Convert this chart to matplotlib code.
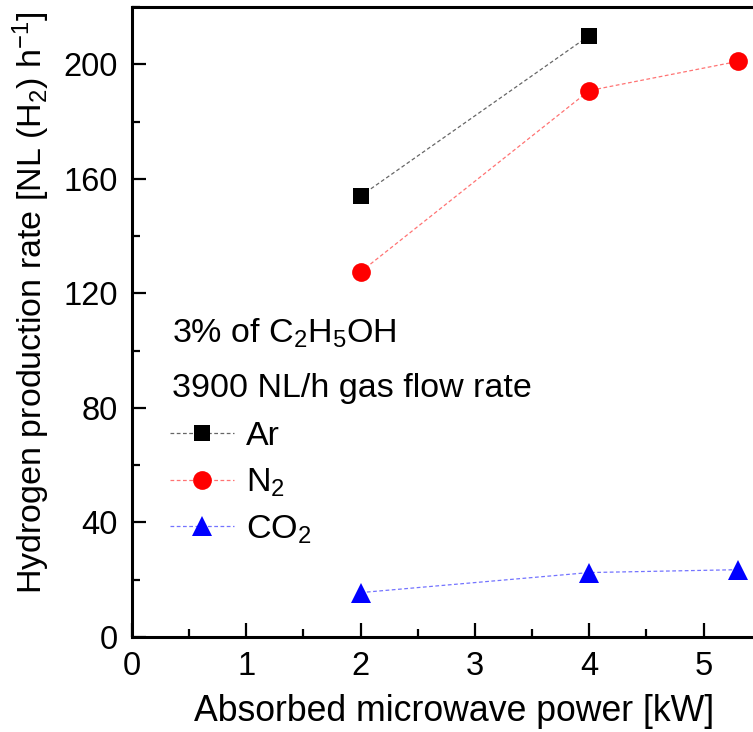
import matplotlib
matplotlib.use("Agg")
import matplotlib.pyplot as plt
from matplotlib.ticker import MultipleLocator

plt.rcParams["font.family"] = ["Liberation Sans", "DejaVu Sans"]
plt.rcParams["mathtext.fontset"] = "custom"
plt.rcParams["mathtext.rm"] = "Liberation Sans"
plt.rcParams["mathtext.it"] = "Liberation Sans:italic"

# absorbed microwave power [kW] and H2 production rate [NL(H2)/h]
power_ar = [2.0, 4.0]
rate_ar = [154.0, 210.0]
power_n2 = [2.0, 4.0, 5.3]
rate_n2 = [127.5, 190.8, 201.0]
power_co2 = [2.0, 4.0, 5.3]
rate_co2 = [15.5, 22.5, 23.5]

series_labels = ["Ar", r"N$_2$", r"CO$_2$"]
header_lines = [r"3% of C$_2$H$_5$OH", "3900 NL/h gas flow rate"]

fig = plt.figure(figsize=(7.53, 7.32), dpi=100)
# axes runs past the right edge of the figure, so the right spine is cut off
ax = fig.add_axes([0.1753, 0.1298, 0.835, 0.8607])

dash = (0, (3, 2))
style = dict(linestyle=dash, linewidth=0.9, markeredgewidth=0)
h_ar, = ax.plot(power_ar, rate_ar, color="black", marker="s", markersize=12,
                **style)
h_n2, = ax.plot(power_n2, rate_n2, color="red", marker="o", markersize=13.5,
                **style)
h_co2, = ax.plot(power_co2, rate_co2, color="blue", marker="^", markersize=15,
                 **style)
# keep the connecting dashes lighter than the markers
for h, c in ((h_ar, (0, 0, 0, 0.6)), (h_n2, (1, 0, 0, 0.55)), (h_co2, (0, 0, 1, 0.55))):
    h.set_color(c)
    h.set_markerfacecolor(c[:3])

ax.set_xlim(0, 5.5)
ax.set_ylim(0, 220)
ax.xaxis.set_major_locator(MultipleLocator(1))
ax.xaxis.set_minor_locator(MultipleLocator(0.5))
ax.yaxis.set_major_locator(MultipleLocator(40))
ax.yaxis.set_minor_locator(MultipleLocator(20))

ax.tick_params(which="both", direction="in", width=1.6, labelsize=23.5,
               top=False, right=False)
ax.tick_params(which="major", length=10, pad=10)
ax.tick_params(which="minor", length=5.5)
for side in ("left", "bottom", "top"):
    ax.spines[side].set_linewidth(2.2)
ax.spines["right"].set_visible(False)

ax.set_xlabel("Absorbed microwave power [kW]", fontsize=25.7)
ax.xaxis.set_label_coords(0.512, -0.09)
ax.set_ylabel(r"Hydrogen production rate [NL (H$_2$) h$^{-1}$]", fontsize=24.5)
ax.yaxis.set_label_coords(-0.127, 0.53)

ax.text(0.0636, 0.468, header_lines[0], transform=ax.transAxes, fontsize=24.5,
        va="baseline", ha="left")
ax.text(0.0636, 0.381, header_lines[1], transform=ax.transAxes, fontsize=24.5,
        va="baseline", ha="left")

ax.legend([h_ar, h_n2, h_co2], series_labels, loc="upper left",
          bbox_to_anchor=(0.06, 0.3425), frameon=False, fontsize=24.5,
          handlelength=1.9, handletextpad=0.35, labelspacing=0.42,
          borderaxespad=0, borderpad=0)

fig.savefig("out.png", dpi=100)
